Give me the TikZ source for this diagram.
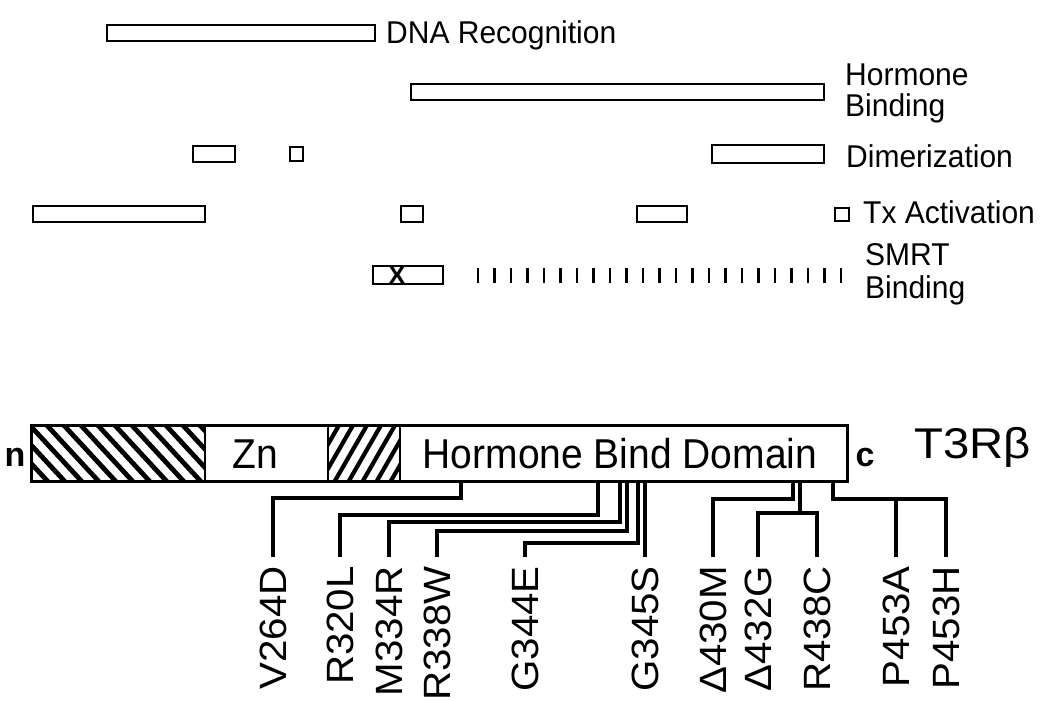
\documentclass[tikz,border=0pt]{standalone}
\usepackage{fontspec}
\setmainfont{Liberation Sans}
\begin{document}
\begin{tikzpicture}[x=1pt,y=-1pt,
  dombar/.style={draw,line width=2.8pt,fill=white},
  lbl/.style={font=\fontsize{30}{32}\selectfont,anchor=base west,inner sep=0,yscale=1.05,transform shape},
  mut/.style={font=\fontsize{38}{40}\selectfont,rotate=90,anchor=base east,inner sep=0,xscale=1.06,transform shape},
  conn/.style={line width=3.1pt},
  big/.style={font=\fontsize{39}{41}\selectfont,anchor=base,inner sep=0,yscale=1.07,transform shape},
  endlbl/.style={font=\fontsize{34}{36}\selectfont\bfseries,anchor=base,inner sep=0},
  tick/.style={line width=2.2pt}]
\useasboundingbox (0,0) rectangle (1050,701);

% ---- functional domains ----
\draw[dombar] (107,25) rectangle (375,41);
\node[lbl] (dna) at (386,44) {DNA Recognition};

\draw[dombar] (411,84) rectangle (824,100);
\node[lbl] (hb1) at (845,85) {Hormone};
\node[lbl] (hb2) at (845,116) {Binding};

\draw[dombar] (193,146) rectangle (235,162);
\draw[dombar] (290,147) rectangle (303,161);
\draw[dombar] (712,145) rectangle (824,163);
\node[lbl] (dim) at (846,167) {Dimerization};

\draw[dombar] (33,206) rectangle (205,222);
\draw[dombar] (401,206) rectangle (423,222);
\draw[dombar] (637,206) rectangle (687,222);
\draw[dombar] (835,208) rectangle (849,221);
\node[lbl] (tx) at (863,223) {Tx Activation};

\draw[dombar] (373,266) rectangle (443,284);
\node[font=\fontsize{26}{27}\selectfont\bfseries,inner sep=0] (xx) at (397,276) {X};
\foreach \i in {0,...,22} {
  \draw[tick] ({478+16.5*\i},268) -- ({478+16.5*\i},283);
}
\node[lbl] (smrt1) at (865,265) {SMRT};
\node[lbl] (smrt2) at (865,298) {Binding};

% ---- receptor bar ----
\fill[white] (31,425) rectangle (847,481);
\begin{scope}
  \clip (31,425) rectangle (205,481);
  \foreach \x in {-60,-43,...,210} {
    \draw[line width=4.8pt] (\x,420) -- ({\x+61},486);
  }
\end{scope}
\begin{scope}
  \clip (328,425) rectangle (400,481);
  \foreach \x in {290,304,...,410} {
    \draw[line width=4.2pt] ({\x+38},420) -- (\x,486);
  }
\end{scope}
\draw[line width=2.8pt] (205,425) -- (205,481);
\draw[line width=2.8pt] (328,425) -- (328,481);
\draw[line width=2.8pt] (400,425) -- (400,481);
\draw[line width=3pt] (31,425) rectangle (847,481);

\node[big] (zn) at (255,468) {Zn};
\node[big] (hbd) at (620,468) {Hormone Bind Domain};
\node[endlbl] (nterm) at (15,466) {n};
\node[endlbl] (cterm) at (865,466) {c};
\node[font=\fontsize{43}{45}\selectfont,anchor=base west,inner sep=0,xscale=1.1,transform shape] (name) at (914,458) {T3Rβ};

% ---- mutation labels ----
\node[mut] (V264D) at (286,566) {V264D};
\node[mut] (R320L) at (353,566) {R320L};
\node[mut] (M334R) at (402,566) {M334R};
\node[mut] (R338W) at (450,566) {R338W};
\node[mut] (G344E) at (538,566) {G344E};
\node[mut] (G345S) at (658,566) {G345S};
\node[mut] (D430M) at (726,566) {Δ430M};
\node[mut] (D432G) at (771,566) {Δ432G};
\node[mut] (R438C) at (830,566) {R438C};
\node[mut] (P453A) at (909,566) {P453A};
\node[mut] (P453H) at (959,566) {P453H};

% ---- connectors ----
\coordinate (s1) at (461,481);  \coordinate (e1) at (273,557);
\coordinate (s2) at (598,481);  \coordinate (e2) at (340,557);
\coordinate (s3) at (620,481);  \coordinate (e3) at (389,557);
\coordinate (s4) at (627,481);  \coordinate (e4) at (437,557);
\coordinate (s5) at (638,481);  \coordinate (e5) at (525,557);
\coordinate (s6) at (645,481);  \coordinate (e6) at (645,557);
\coordinate (s7) at (793,481);  \coordinate (e7) at (713,557);
\coordinate (s8) at (800,481);  \coordinate (j8) at (800,513);
\coordinate (e8a) at (758,557); \coordinate (e8b) at (817,557);
\coordinate (s9) at (833,481);  \coordinate (j9) at (896,499);
\coordinate (e9a) at (896,557); \coordinate (e9b) at (946,557);

\draw[conn] (s1) -- (461,498) -| (e1);
\draw[conn] (s2) -- (598,515) -| (e2);
\draw[conn] (s3) -- (620,522) -| (e3);
\draw[conn] (s4) -- (627,531) -| (e4);
\draw[conn] (s5) -- (638,543) -| (e5);
\draw[conn] (s6) -- (e6);
\draw[conn] (s7) -- (793,499) -| (e7);
\draw[conn] (s8) -- (j8);
\draw[conn] (e8a) |- (j8) -| (e8b);
\draw[conn] (s9) -- (833,499) -| (e9b);
\draw[conn] (j9) -- (e9a);
\end{tikzpicture}
\end{document}
